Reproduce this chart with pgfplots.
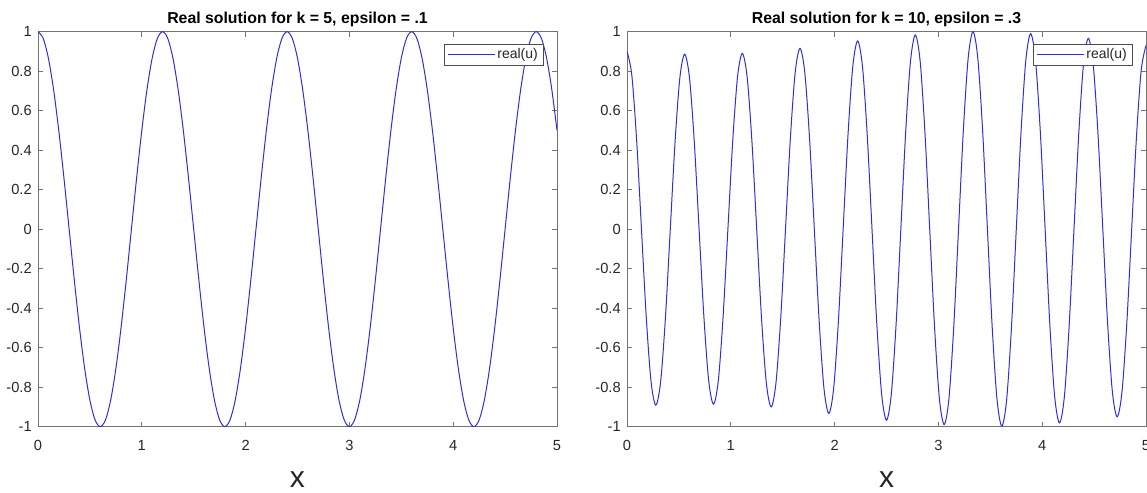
\documentclass[border=0pt]{standalone}
\usepackage{fontspec}
\setmainfont{Liberation Sans}
\usepackage{pgfplots}
\pgfplotsset{compat=1.18}
\definecolor{mlblue}{RGB}{45,45,225}
\pgfplotsset{
  myax/.style={
    scale only axis, width=311.4pt, height=237pt,
    xmin=0, xmax=5, ymin=-1, ymax=1,
    xtick={0,1,2,3,4,5}, xticklabels={0,1,2,3,4,5},
    ytick={-1,-0.8,-0.6,-0.4,-0.2,0,0.2,0.4,0.6,0.8,1},
    yticklabels={-1,-0.8,-0.6,-0.4,-0.2,0,0.2,0.4,0.6,0.8,1},
    /pgf/number format/assume math mode=true,
    tick align=inside, major tick length=3pt,
    axis line style={black!55, line width=0.5pt},
    every tick/.style={black!55, line width=0.5pt},
    tick label style={font=\fontsize{8.8}{10}\selectfont, text=black!85, inner sep=0pt},
    xticklabel style={anchor=base, yshift=-14pt},
    yticklabel style={anchor=east, xshift=-3.6pt},
    every axis title shift=0pt,
    title style={font=\bfseries\fontsize{9.5}{11}\selectfont, at={(0.5,1)}, anchor=base, yshift=5.2pt, inner sep=0pt, text=black},
    xlabel style={font=\fontsize{18}{20}\selectfont, at={(0.5,0)}, anchor=center, yshift=-32pt, inner sep=0pt, text=black!85},
    legend style={at={(1,1)}, anchor=north east, xshift=-7.8pt, yshift=-7.4pt,
      draw=black!70, line width=0.4pt, fill=white, inner xsep=2.2pt, inner ysep=1.2pt,
      font=\fontsize{8.4}{10}\selectfont, text=black!85,
      nodes={inner sep=1.3pt}},
    legend cell align=left,
    legend image code/.code={\draw[#1] (0pt,0pt) -- (28pt,0pt);},
  },
  ser/.style={color=mlblue, line width=0.6pt, mark=none, smooth},
}
\begin{document}
\begin{tikzpicture}[x=1pt,y=1pt]
\begin{axis}[myax, at={(22.8pt,-256pt)}, anchor=south west,
  title={Real solution for k = 5, epsilon = .1}, xlabel={x}]
\addplot[ser] table {
x y
0.00 1
0.05 0.9659
0.10 0.8660
0.15 0.7071
0.20 0.5
0.25 0.2588
0.30 0
0.35 -0.2588
0.40 -0.5
0.45 -0.7071
0.50 -0.8660
0.55 -0.9659
0.60 -1
0.65 -0.9659
0.70 -0.8660
0.75 -0.7071
0.80 -0.5
0.85 -0.2588
0.90 0
0.95 0.2588
1.00 0.5
1.05 0.7071
1.10 0.8660
1.15 0.9659
1.20 1
1.25 0.9659
1.30 0.8660
1.35 0.7071
1.40 0.5
1.45 0.2588
1.50 0
1.55 -0.2588
1.60 -0.5
1.65 -0.7071
1.70 -0.8660
1.75 -0.9659
1.80 -1
1.85 -0.9659
1.90 -0.8660
1.95 -0.7071
2.00 -0.5
2.05 -0.2588
2.10 0
2.15 0.2588
2.20 0.5
2.25 0.7071
2.30 0.8660
2.35 0.9659
2.40 1
2.45 0.9659
2.50 0.8660
2.55 0.7071
2.60 0.5
2.65 0.2588
2.70 0
2.75 -0.2588
2.80 -0.5
2.85 -0.7071
2.90 -0.8660
2.95 -0.9659
3.00 -1
3.05 -0.9659
3.10 -0.8660
3.15 -0.7071
3.20 -0.5
3.25 -0.2588
3.30 0
3.35 0.2588
3.40 0.5
3.45 0.7071
3.50 0.8660
3.55 0.9659
3.60 1
3.65 0.9659
3.70 0.8660
3.75 0.7071
3.80 0.5
3.85 0.2588
3.90 0
3.95 -0.2588
4.00 -0.5
4.05 -0.7071
4.10 -0.8660
4.15 -0.9659
4.20 -1
4.25 -0.9659
4.30 -0.8660
4.35 -0.7071
4.40 -0.5
4.45 -0.2588
4.50 0
4.55 0.2588
4.60 0.5
4.65 0.7071
4.70 0.8660
4.75 0.9659
4.80 1
4.85 0.9659
4.90 0.8660
4.95 0.7071
5.00 0.5
};
\addlegendentry{real(u)}
\end{axis}
\begin{axis}[myax, at={(376.2pt,-256pt)}, anchor=south west,
  title={Real solution for k = 10, epsilon = .3}, xlabel={x}]
\addplot[ser] table {
x y
0 0.900
0.0463 0.780
0.0926 0.452
0.1389 0.005
0.1852 -0.443
0.2315 -0.771
0.2778 -0.891
0.3241 -0.772
0.3704 -0.447
0.4167 -0.003
0.4630 0.442
0.5093 0.767
0.5556 0.886
0.6019 0.767
0.6481 0.443
0.6944 0
0.7407 -0.443
0.7870 -0.767
0.8333 -0.886
0.8796 -0.767
0.9259 -0.442
0.9722 0.002
1.0185 0.446
1.0648 0.771
1.1111 0.890
1.1574 0.770
1.2037 0.443
1.2500 -0.005
1.2963 -0.453
1.3426 -0.780
1.3889 -0.900
1.4352 -0.778
1.4815 -0.446
1.5278 0.008
1.5741 0.462
1.6204 0.794
1.6667 0.916
1.7130 0.792
1.7593 0.454
1.8056 -0.009
1.8519 -0.471
1.8981 -0.809
1.9444 -0.933
1.9907 -0.807
2.0370 -0.462
2.0833 0.010
2.1296 0.482
2.1759 0.827
2.2222 0.953
2.2685 0.824
2.3148 0.473
2.3611 -0.007
2.4074 -0.487
2.4537 -0.838
2.5000 -0.967
2.5463 -0.836
2.5926 -0.480
2.6389 0.008
2.6852 0.496
2.7315 0.852
2.7778 0.983
2.8241 0.851
2.8704 0.490
2.9167 -0.003
2.9630 -0.496
3.0093 -0.857
3.0556 -0.989
3.1019 -0.856
3.1481 -0.492
3.1944 0.006
3.2407 0.503
3.2870 0.867
3.3333 1.000
3.3796 0.866
3.4259 0.501
3.4722 0.002
3.5185 -0.498
3.5648 -0.863
3.6111 -0.997
3.6574 -0.864
3.7037 -0.500
3.7500 -0.004
3.7963 0.493
3.8426 0.857
3.8889 0.990
3.9352 0.858
3.9815 0.497
4.0278 0.005
4.0741 -0.488
4.1204 -0.849
4.1667 -0.981
4.2130 -0.851
4.2593 -0.494
4.3056 -0.008
4.3519 0.479
4.3981 0.836
4.4444 0.966
4.4907 0.838
4.5370 0.487
4.5833 0.008
4.6296 -0.471
4.6759 -0.822
4.7222 -0.950
4.7685 -0.824
4.8148 -0.480
4.8611 -0.010
4.9074 0.460
4.9537 0.804
5.0000 0.930
};
\addlegendentry{real(u)}
\end{axis}
\pgfresetboundingbox
\useasboundingbox (0pt,0pt) rectangle (688.2pt,-295.2pt);
\end{tikzpicture}
\end{document}
